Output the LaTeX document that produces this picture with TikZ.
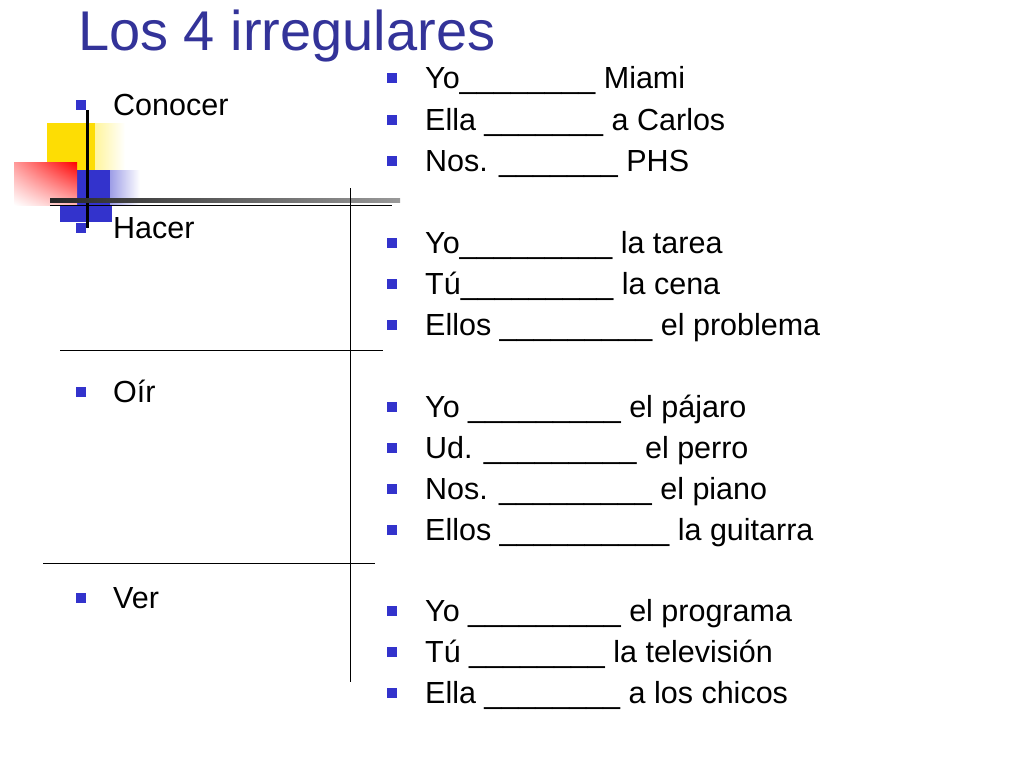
\documentclass[tikz,border=0pt]{standalone}
\usepackage{fontspec}
\setmainfont{Liberation Sans}
\usetikzlibrary{shadings}
\begin{document}
\begin{tikzpicture}[x=1pt,y=-1pt,
  txt/.style={anchor=base west,inner sep=0pt,font=\fontsize{30.5}{33}\selectfont},
  bul/.style={fill=bulblue,minimum size=10pt,inner sep=0pt,anchor=center}]
\definecolor{bulblue}{RGB}{51,51,204}
\definecolor{titleblue}{RGB}{51,51,153}
\useasboundingbox (0,0) rectangle (1024,768);
% decoration
\fill[left color=yellow!80!orange, right color=white] (47,123) rectangle (125,170);
\fill[yellow!80!orange] (47,123) rectangle (95,170);
\fill[left color=bulblue, right color=white] (77,170) rectangle (140,205);
\fill[bulblue] (77,170) rectangle (110,205);
\fill[bulblue] (60,205) rectangle (112,222);
\shade[upper right=red,upper left=red!40,lower right=red!30,lower left=white] (14,162) rectangle (77,205);
\draw[line width=3pt] (87,110) -- (87,228);
\shade[left color=black!85, right color=black!40] (50,198) rectangle (400,202);
\draw[line width=1pt] (50,205) -- (392,205);
\draw[line width=0.8pt] (350,188) -- (350,682);
\draw[line width=0.8pt] (60,350) -- (383,350);
\draw[line width=0.8pt] (43,563) -- (375,563);
% title
\node[anchor=base west,inner sep=0pt,text=titleblue,font=\fontsize{56}{60}\selectfont] (title) at (78,50) {Los 4 irregulares};
% left
\foreach \t/\y [count=\i] in {Conocer/115,Hacer/238,Oír/402,Ver/608}{
  \node[bul] (lb\i) at (81,\y-10) {};
  \node[txt] (l\i) at (113,\y) {\t};
}
% right
\foreach \t/\y [count=\i] in {
 {Yo\_\_\_\_\_\_\_\_ Miami}/88,
 {Ella \_\_\_\_\_\_\_ a Carlos}/130,
 {Nos. \_\_\_\_\_\_\_ PHS}/171,
 {Yo\_\_\_\_\_\_\_\_\_ la tarea}/253,
 {Tú\_\_\_\_\_\_\_\_\_ la cena}/294,
 {Ellos \_\_\_\_\_\_\_\_\_ el problema}/335,
 {Yo \_\_\_\_\_\_\_\_\_ el pájaro}/417,
 {Ud. \_\_\_\_\_\_\_\_\_ el perro}/458,
 {Nos. \_\_\_\_\_\_\_\_\_ el piano}/499,
 {Ellos \_\_\_\_\_\_\_\_\_\_ la guitarra}/540,
 {Yo \_\_\_\_\_\_\_\_\_ el programa}/621,
 {Tú \_\_\_\_\_\_\_\_ la televisión}/662,
 {Ella \_\_\_\_\_\_\_\_ a los chicos}/703}{
  \node[bul] (rb\i) at (392,\y-10) {};
  \node[txt] (r\i) at (425,\y) {\t};
}
\end{tikzpicture}
\end{document}
